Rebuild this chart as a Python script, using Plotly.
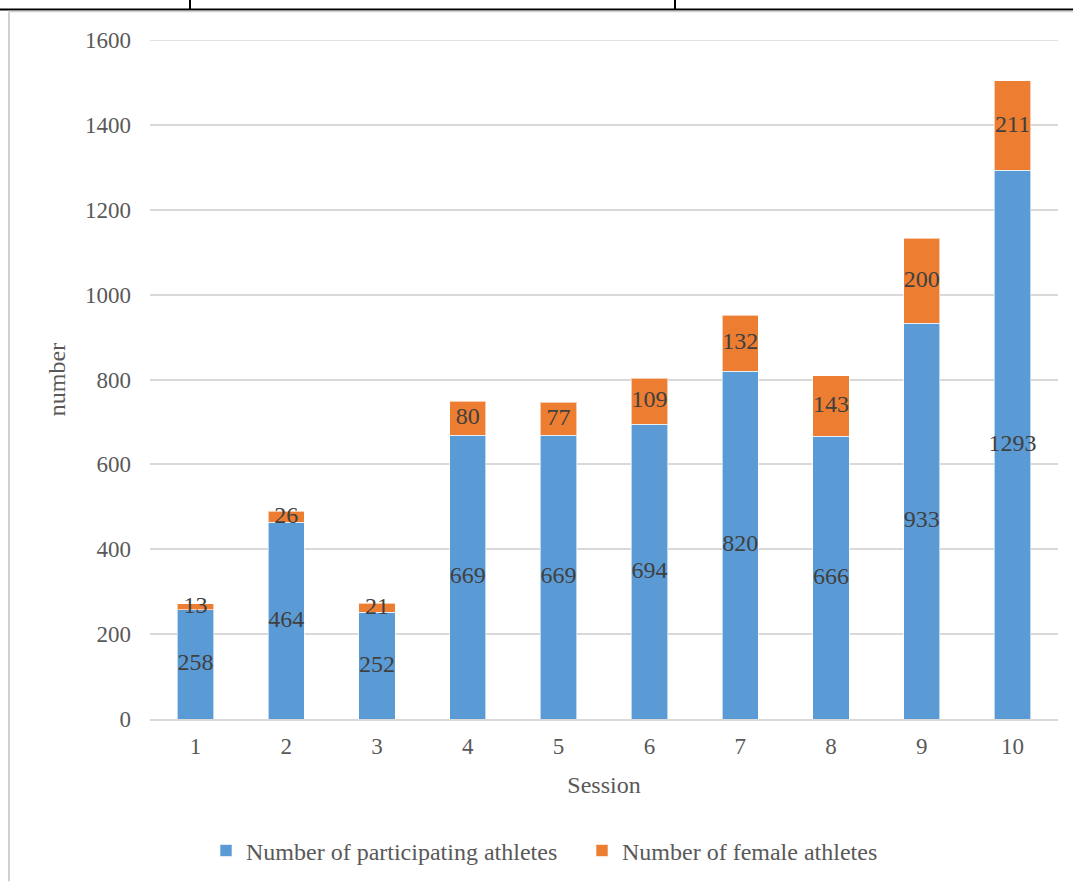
import plotly.graph_objects as go

sessions = ["1", "2", "3", "4", "5", "6", "7", "8", "9", "10"]
participating = [258, 464, 252, 669, 669, 694, 820, 666, 933, 1293]
female = [13, 26, 21, 80, 77, 109, 132, 143, 200, 211]
y_ticks = [0, 200, 400, 600, 800, 1000, 1200, 1400, 1600]

BLUE = "#5B9BD5"
ORANGE = "#ED7D31"
FONT = "Liberation Serif, Times New Roman, serif"

PW, PH, L, B = 908, 690, 150, 155

fig = go.Figure()
fig.add_trace(go.Bar(
    x=sessions, y=participating, name="Number of participating athletes",
    marker=dict(color=BLUE, line=dict(color="rgba(255,255,255,0.6)", width=1)),
    legend="legend",
))
fig.add_trace(go.Bar(
    x=sessions, y=female, name="Number of female athletes",
    marker=dict(color=ORANGE, line=dict(color="rgba(255,255,255,0.6)", width=1)),
    legend="legend2",
))

# data labels centred in each segment
lab_x = sessions + sessions
lab_y = [p / 2 for p in participating] + [p + f / 2 for p, f in zip(participating, female)]
lab_t = [str(v) for v in participating] + [str(v) for v in female]
fig.add_trace(go.Scatter(
    x=lab_x, y=lab_y, text=lab_t, mode="text", showlegend=False, hoverinfo="skip",
    textposition="middle center", textfont=dict(family=FONT, size=24, color="#404040"),
))

shapes = [
    # top gridline (at the axis maximum)
    dict(type="line", xref="paper", yref="y", x0=0, x1=1, y0=max(y_ticks), y1=max(y_ticks),
         line=dict(color="#d9d9d9", width=1.5), layer="below"),
    # document table fragment at the top
    dict(type="line", xref="paper", yref="paper", x0=-L/PW, x1=(1073-L)/PW,
         y0=1 + 31/PH, y1=1 + 31/PH, line=dict(color="#000000", width=2)),
    dict(type="line", xref="paper", yref="paper", x0=(190-L)/PW, x1=(190-L)/PW,
         y0=1 + 31/PH, y1=1 + 45/PH, line=dict(color="#000000", width=2)),
    dict(type="line", xref="paper", yref="paper", x0=(675-L)/PW, x1=(675-L)/PW,
         y0=1 + 31/PH, y1=1 + 45/PH, line=dict(color="#000000", width=2)),
    # chart frame (top and left)
    dict(type="line", xref="paper", yref="paper", x0=(10-L)/PW, x1=(1073-L)/PW,
         y0=1 + 29/PH, y1=1 + 29/PH, line=dict(color="#d0d0d0", width=1.5)),
    dict(type="line", xref="paper", yref="paper", x0=(9-L)/PW, x1=(9-L)/PW,
         y0=1 + 29/PH, y1=-(B + 10)/PH, line=dict(color="#d0d0d0", width=2)),
]

legend_common = dict(
    orientation="h", yanchor="middle", xanchor="left",
    font=dict(family=FONT, size=24, color="#595959"), itemwidth=30,
    bgcolor="rgba(0,0,0,0)",
)

fig.update_layout(
    barmode="stack",
    bargap=0.6,
    width=1073, height=885,
    margin=dict(l=L, r=15, t=40, b=B),
    paper_bgcolor="white", plot_bgcolor="white",
    font=dict(family=FONT, color="#595959"),
    shapes=shapes,
    xaxis=dict(
        title=dict(text="Session", font=dict(family=FONT, size=24, color="#595959"), standoff=18),
        tickfont=dict(family=FONT, size=23, color="#595959"),
        showgrid=False, showline=True, linecolor="#d9d9d9", linewidth=1.5,
        ticks="", range=[-0.5, 9.5], automargin=False, ticklabelstandoff=6,
    ),
    yaxis=dict(
        title=dict(text="number", font=dict(family=FONT, size=24, color="#595959"), standoff=12),
        tickfont=dict(family=FONT, size=23, color="#595959"),
        range=[0, 1600], tickvals=y_ticks, showgrid=True, gridcolor="#d9d9d9", gridwidth=1.5,
        zeroline=False, showline=False, ticks="", ticklabelstandoff=18, automargin=False,
    ),
    legend=dict(legend_common, x=(206-L)/PW * 0 + (206-L)/908, y=-(134)/PH),
    legend2=dict(legend_common, x=(582-L)/908, y=-(134)/PH),
)

fig.write_html("out.html")
